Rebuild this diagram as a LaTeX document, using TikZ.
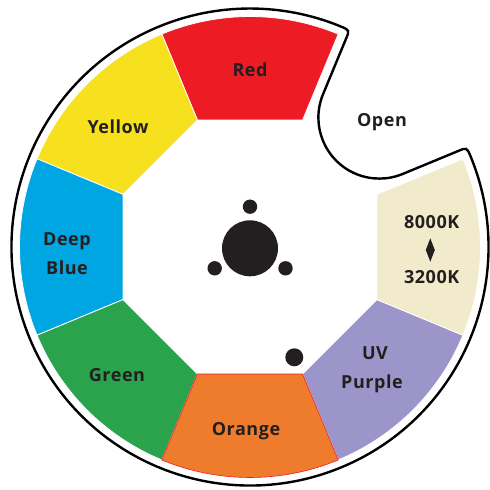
\documentclass[tikz,border=0pt]{standalone}
\usepackage{fontspec}
\setmainfont{Open Sans}[BoldFont={* Bold}]
\definecolor{cRed}{HTML}{ED1C24}
\definecolor{cYellow}{HTML}{F7E11F}
\definecolor{cBlue}{HTML}{00A6E2}
\definecolor{cGreen}{HTML}{2BA24C}
\definecolor{cOrange}{HTML}{EF7B2D}
\definecolor{cPurple}{HTML}{9B95C9}
\definecolor{cCream}{HTML}{F1EBCB}
\definecolor{txt}{HTML}{231F20}
\begin{document}
\begin{tikzpicture}[x=1pt,y=1pt,
  seg/.style={draw=white,line width=0.8pt},
  lbl/.style={anchor=base,text=txt,font=\fontsize{18}{21}\selectfont\bfseries\addfontfeatures{LetterSpace=3},inner sep=0pt},
  knob/.style={fill=txt,draw=none}]
\useasboundingbox (-250,-243) rectangle (240,247);
\def\ri{137.47}
\def\ro{230.5}
\newcommand{\wseg}[2]{%
  \path[seg,fill=#2] ({#1-22.5}:\ri) -- ({#1-22.5}:\ro) arc[start angle={#1-22.5},end angle={#1+22.5},radius=\ro] -- ({#1+22.5}:\ri) -- cycle;}
\wseg{90}{cRed}
\wseg{135}{cYellow}
\wseg{180}{cBlue}
\wseg{225}{cGreen}
\wseg{315}{cPurple}
\wseg{0}{cCream}
\path[draw=cRed,line width=0.6pt,fill=cOrange] (247.5:\ri) -- (247.5:\ro) arc[start angle=247.5,end angle=292.5,radius=\ro] -- (292.5:\ri) -- cycle;
% outer border with notch
\coordinate (P1) at (99.54,216.73);
\coordinate (Q1) at (96.1,208.42);
\coordinate (T1) at (73.04,152.75);
\coordinate (Q2) at (208.42,96.1);
\coordinate (P2) at (216.73,99.54);
\coordinate (S) at (22.47:238.5);
\draw[line width=2.4pt,black] (S) arc[start angle=22.47,end angle=-292.47,radius=238.5]
  .. controls (P1) .. (Q1) -- (T1)
  arc[start angle=157.5,end angle=292.5,radius=61] -- (Q2)
  .. controls (P2) .. (S);
% center knob
\fill[knob] (0,-1.3) circle (28);
\fill[knob] (0,40.3) circle (7.2);
\fill[knob] (-35.3,-21.3) circle (7.2);
\fill[knob] (35.5,-21.3) circle (7.2);
\fill[knob] (44.3,-110.3) circle (9);
% labels
\node[lbl] (red) at (0,170.5) {Red};
\node[lbl] (open) at (132,120.5) {Open};
\node[lbl] (yellow) at (-132,113.5) {Yellow};
\node[lbl] (deep) at (-183,1.5) {Deep};
\node[lbl] (blue) at (-183,-27.5) {Blue};
\node[lbl] (green) at (-133,-134.5) {Green};
\node[lbl] (orange) at (-4,-188.5) {Orange};
\node[lbl] (uv) at (125,-112.5) {UV};
\node[lbl] (purple) at (122,-141.5) {Purple};
\node[lbl] (k8) at (181.7,18.8) {8000K};
\node[lbl] (k3) at (181.7,-36.5) {3200K};
\fill[txt] (180.3,8.7) -- (184.8,-3) -- (180.3,-14.7) -- (175.8,-3) -- cycle;
\end{tikzpicture}
\end{document}
